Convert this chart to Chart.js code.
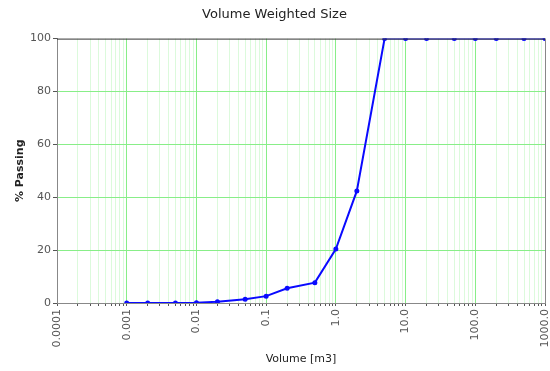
<!DOCTYPE html>
<html>
<head>
<meta charset="utf-8">
<script src="https://cdn.jsdelivr.net/npm/chart.js@4/dist/chart.umd.min.js"></script>
<style>
  body { margin: 0; background: #fff; }
</style>
</head>
<body>
<canvas id="myChart" width="550" height="371"></canvas>
<script>
const sizes = [0.001, 0.002, 0.005, 0.01, 0.02, 0.05, 0.1, 0.2, 0.5, 1, 2, 5, 10, 20, 50, 100, 200, 500, 1000];
const passing = [0, 0, 0, 0.1, 0.5, 1.4, 2.6, 5.6, 7.7, 20.4, 42.4, 100, 100, 100, 100, 100, 100, 100, 100];
const decades = [0.0001, 0.001, 0.01, 0.1, 1, 10, 100, 1000];
const decadeLabels = ["0.0001", "0.001", "0.01", "0.1", "1.0", "10.0", "100.0", "1000.0"];
const yTicks = [0, 20, 40, 60, 80, 100];

const fontFam = "'DejaVu Sans', Verdana, sans-serif";

const isDecade = (v) => decades.some((d) => Math.abs(v / d - 1) < 1e-6);

// top and right frame lines
const frame = {
  id: "frame",
  afterDraw(chart) {
    const { ctx, chartArea: a } = chart;
    ctx.save();
    ctx.lineWidth = 1;
    ctx.strokeStyle = "#333";
    ctx.beginPath();
    ctx.moveTo(a.left, a.top + 0.5);
    ctx.lineTo(a.right, a.top + 0.5);
    ctx.stroke();
    ctx.strokeStyle = "#888";
    ctx.beginPath();
    ctx.moveTo(a.right + 0.5, a.top);
    ctx.lineTo(a.right + 0.5, a.bottom);
    ctx.stroke();
    ctx.restore();
  },
};

const data = {
  datasets: [
    {
      label: "Volume Weighted Size",
      data: sizes.map((s, i) => ({ x: s, y: passing[i] })),
      borderColor: "#0a0aff",
      backgroundColor: "#0a0aff",
      borderWidth: 2,
      pointRadius: 1.5,
      pointHoverRadius: 1.5,
      tension: 0,
    },
  ],
};

const config = {
  type: "line",
  data: data,
  options: {
    responsive: false,
    animation: false,
    layout: { padding: { top: 4, right: 5, left: 4, bottom: 4 } },
    plugins: {
      legend: { display: false },
      tooltip: { enabled: false },
      title: {
        display: true,
        text: "Volume Weighted Size",
        color: "#222",
        font: { family: fontFam, size: 13, weight: "normal" },
        padding: { top: 3, bottom: 16 },
      },
    },
    scales: {
      x: {
        type: "logarithmic",
        min: 0.0001,
        max: 1000,
        afterBuildTicks: (scale) => {
          const t = [];
          decades.forEach((d, i) => {
            if (i === decades.length - 1) {
              t.push({ value: d });
              return;
            }
            for (let k = 1; k <= 9; k++) t.push({ value: d * k });
          });
          scale.ticks = t;
        },
        afterFit: (scale) => {
          scale.height = 64;
          scale.paddingRight = 0;
          scale.paddingLeft = 0;
        },
        border: { color: "#888", width: 1 },
        grid: {
          color: (c) => (c.tick && isDecade(c.tick.value) ? "#88ee88" : "#dcfadc"),
          lineWidth: 1,
          tickColor: "#555",
          tickLength: 3,
        },
        ticks: {
          autoSkip: false,
          minRotation: 90,
          maxRotation: 90,
          color: "#555",
          padding: 3,
          font: { family: fontFam, size: 11 },
          callback: (v) => {
            const i = decades.findIndex((d) => Math.abs(v / d - 1) < 1e-6);
            return i >= 0 ? decadeLabels[i] : "";
          },
        },
        title: {
          display: true,
          text: "Volume [m3]",
          color: "#222",
          font: { family: fontFam, size: 11 },
          padding: { top: 0, bottom: 1 },
        },
      },
      y: {
        min: 0,
        max: 100,
        afterBuildTicks: (scale) => {
          scale.ticks = yTicks.map((v) => ({ value: v }));
        },
        afterFit: (scale) => {
          scale.width = 53;
        },
        border: { color: "#888", width: 1 },
        grid: {
          color: (c) => (c.tick && c.tick.value > 0 && c.tick.value < 100 ? "#88ee88" : "rgba(0,0,0,0)"),
          lineWidth: 1,
          tickColor: "#555",
          tickLength: 4,
        },
        ticks: {
          color: "#555",
          padding: 2,
          font: { family: fontFam, size: 11 },
        },
        title: {
          display: true,
          text: "% Passing",
          color: "#222",
          font: { family: fontFam, size: 11, weight: "bold" },
          padding: { top: 10, bottom: 4 },
        },
      },
    },
  },
  plugins: [frame],
};

const myChart = new Chart(document.getElementById("myChart"), config);
</script>
</body>
</html>
